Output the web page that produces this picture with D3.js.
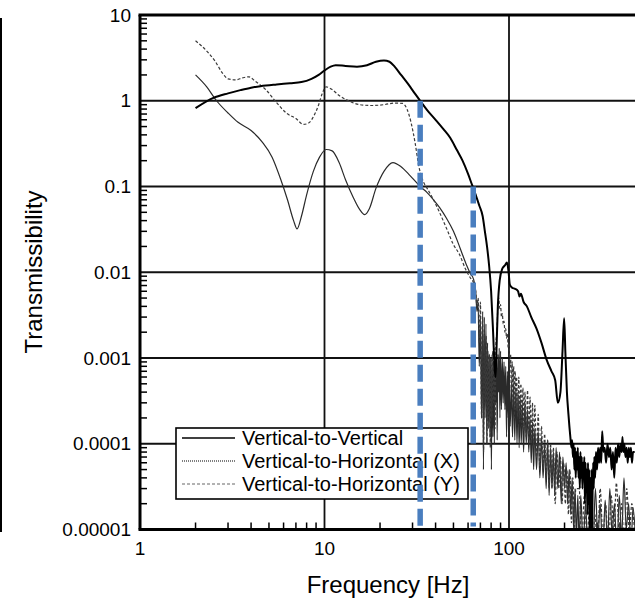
<!DOCTYPE html>
<html>
<head>
<meta charset="utf-8">
<script src="https://cdn.jsdelivr.net/npm/d3@7"></script>
<style>
  body { margin: 0; background: #fff; }
  svg { display: block; font-family: "Liberation Sans", Arial, sans-serif; }
</style>
</head>
<body>
<svg id="chart"></svg>
<script>
const WIDTH = 635;
const HEIGHT = 602;

// Vertical-to-Vertical
const vvFreq = [2, 2.5, 3, 3.5, 4, 4.5, 5.5, 6.5, 7.5, 8.5, 9.3, 10, 10.8, 11.5, 13, 15, 17, 19, 21, 22.5,
  24, 26, 28.5, 31, 33, 36, 40, 44, 48, 52, 56, 60, 63, 66, 69, 72, 74, 76, 78, 80,
  82, 83.5, 84.5, 85.5, 87, 89, 92, 95, 97.5, 99.5, 101, 104, 108, 112, 114, 116, 120, 125, 132, 141,
  150, 160, 170, 178, 184, 190, 195, 199, 202, 206, 210, 215, 218, 220, 222, 224, 226, 228, 230, 232,
  234, 236, 238, 240, 242, 244, 246, 248, 250, 252, 254, 256, 258, 260, 262, 264, 266, 268, 270, 272,
  274, 276, 278, 280, 282, 284, 286, 288, 290, 293, 296, 300, 304, 308, 312, 316, 320, 325, 330, 336,
  342, 348, 354, 360, 366, 372, 378, 384, 390, 396, 402, 408, 412, 417, 422, 428, 434, 440, 446, 452,
  458, 464, 470, 480];
const vvVal = [0.82, 1.08, 1.22, 1.33, 1.42, 1.48, 1.55, 1.6, 1.65, 1.8, 2.0, 2.25, 2.5, 2.6, 2.55, 2.5, 2.6, 2.85, 2.95, 2.85,
  2.5, 2.0, 1.55, 1.2, 1.0, 0.78, 0.6, 0.47, 0.37, 0.27, 0.2, 0.14, 0.105, 0.08, 0.06, 0.045, 0.03, 0.02, 0.012, 0.006,
  0.002, 0.0008, 0.0006, 0.0012, 0.004, 0.008, 0.011, 0.012, 0.013, 0.01, 0.0072, 0.0066, 0.0064, 0.006, 0.0052, 0.0056, 0.0045, 0.004, 0.003, 0.0022,
  0.0015, 0.00095, 0.0007, 0.00055, 0.0003, 0.0004, 0.0012, 0.0029, 0.0012, 0.0004, 0.00022, 0.00012, 0.00009, 0.00011, 0.00007, 0.0001, 0.00005, 0.00009, 0.00004, 0.00008,
  0.00005, 0.00009, 0.00004, 0.00007, 0.00003, 0.00008, 0.00004, 0.00007, 0.00003, 0.00006, 0.00004, 0.00007, 0.00002, 0.00006, 0.00003, 0.00005, 0.000015, 0.00006, 0.00002, 0.00005,
  0.000008, 0.00004, 0.000006, 0.00005, 0.000009, 0.00003, 0.00006, 0.00003, 0.00007, 0.00004, 0.00008, 0.00005, 0.00009, 0.00006, 0.00009, 0.00006, 0.00014, 0.00008, 0.00009, 0.00006,
  0.0001, 0.00007, 0.00009, 0.00005, 0.00008, 0.00004, 0.00009, 0.00006, 0.0001, 0.00007, 0.0001, 0.00008, 0.00012, 0.00008, 0.0001, 0.00007, 0.00009, 0.00006, 0.00009, 0.00007,
  0.00009, 0.00006, 0.00008, 0.00008];

// Vertical-to-Horizontal (X)
const vhxFreq = [2, 2.3, 2.6, 3, 3.4, 4, 4.6, 5.2, 5.8, 6.3, 6.8, 7.1, 7.5, 8, 8.7, 9.4, 10.2, 11, 12, 13,
  14.3, 15.5, 16.5, 17.5, 19, 21, 23.5, 26, 29, 33, 36, 39, 42, 46, 50, 53, 56, 59, 62, 64,
  66, 67, 68, 69, 70, 71, 72, 72.7, 73.5, 74.2, 75, 75.8, 76.5, 77.3, 78, 78.8, 79.5, 80.3, 81, 81.8,
  82.5, 83.3, 84, 84.8, 85.5, 86.3, 87, 87.8, 88.5, 89.3, 90, 91, 92, 93, 94, 95, 96, 97, 98, 99,
  100, 101.5, 103, 104.5, 106, 107.5, 109, 110.5, 112, 113.5, 115, 116.5, 118, 120, 122, 124, 126, 128, 130, 132,
  134, 136, 138, 141, 144, 147, 150, 153, 156, 159, 162, 165, 168, 171, 174, 177, 180, 184, 188, 192,
  196, 200, 204, 208, 212, 216, 220, 224, 228, 232, 236, 240, 245, 252, 260, 268, 276, 285, 294, 303,
  312, 322, 332, 342, 352, 362, 373, 384, 396, 408, 420, 432, 445, 458, 470, 485];
const vhxVal = [2.0, 1.45, 1.0, 0.72, 0.56, 0.45, 0.33, 0.22, 0.12, 0.07, 0.04, 0.032, 0.045, 0.08, 0.15, 0.22, 0.27, 0.26, 0.19, 0.12,
  0.075, 0.054, 0.047, 0.055, 0.095, 0.15, 0.19, 0.17, 0.135, 0.1, 0.085, 0.07, 0.057, 0.042, 0.03, 0.022, 0.016, 0.012, 0.0095, 0.0085,
  0.006, 0.0035, 0.0045, 0.0008, 0.003, 0.0002, 0.0035, 0.00005, 0.003, 0.0002, 0.0025, 0.0001, 0.0015, 0.00015, 0.0011, 0.00012, 0.001, 0.00005, 0.0011, 0.00012,
  0.0009, 0.0001, 0.001, 0.0003, 0.0012, 0.00011, 0.0011, 0.0004, 0.0013, 0.0002, 0.0012, 0.00025, 0.001, 0.0003, 0.0009, 0.00025, 0.0008, 0.00012, 0.0007, 0.0002,
  0.0006, 0.00016, 0.0005, 0.00012, 0.0005, 0.00011, 0.00045, 0.0001, 0.0004, 0.00009, 0.00035, 0.0001, 0.0003, 0.00008, 0.0003, 0.0001, 0.00025, 0.00008, 0.0002, 0.00006,
  0.00018, 0.00005, 0.00015, 0.00005, 0.00014, 0.00004, 0.00012, 0.00004, 0.0001, 0.00003, 0.00011, 0.000025, 0.00009, 0.00003, 0.00008, 0.000025, 0.00009, 0.00003, 0.00008, 0.00002,
  0.00007, 0.00003, 0.00006, 0.00002, 0.00005, 0.000015, 0.00004, 0.00001, 0.00003, 0.000008, 0.000025, 0.000007, 0.000025, 0.000006, 0.00002, 0.000005, 0.000018, 0.000006, 0.00003, 0.000008,
  0.00002, 0.000005, 0.000022, 0.000007, 0.00003, 0.000009, 0.00002, 0.000005, 0.000025, 0.000008, 0.00004, 0.00001, 0.00002, 0.000006, 0.000018, 0.000008];

// Vertical-to-Horizontal (Y)
const vhyFreq = [2, 2.3, 2.55, 2.8, 3, 3.3, 3.6, 3.9, 4.2, 4.8, 5.5, 6.2, 7, 7.7, 8.2, 8.8, 9.3, 9.7, 10.2, 11,
  12, 13.5, 15.5, 18, 21, 24, 26.5, 28, 29.5, 31, 32.5, 34, 36, 39, 42, 46, 50, 54, 58, 62,
  64, 65, 66, 67, 68, 69, 70, 71, 72, 72.8, 73.6, 74.4, 75.2, 76, 76.8, 77.6, 78.4, 79.2, 80, 80.8,
  81.6, 82.4, 83.2, 84, 85, 86, 87, 88, 89, 90, 91, 92, 93, 94, 95, 96, 97, 98, 99, 100,
  101, 102, 103, 104, 105, 106, 107, 108, 109, 110, 111.5, 113, 114.5, 116, 117.5, 119, 120.5, 122, 124, 126,
  128, 130, 132, 134, 136, 138, 141, 144, 147, 150, 153, 156, 159, 162, 165, 168, 171, 174, 178, 182,
  186, 190, 194, 198, 202, 206, 210, 214, 218, 222, 226, 230, 240, 248, 256, 265, 274, 283, 292, 302,
  312, 323, 334, 346, 358, 370, 382, 395, 408, 421, 435, 449, 463, 478];
const vhyVal = [5.0, 3.8, 2.9, 2.1, 1.8, 1.75, 1.85, 1.9, 1.7, 1.35, 0.95, 0.72, 0.62, 0.53, 0.55, 0.68, 0.9, 1.2, 1.45, 1.35,
  1.15, 1.0, 0.9, 0.88, 0.9, 0.94, 0.93, 0.8, 0.55, 0.32, 0.17, 0.12, 0.095, 0.07, 0.05, 0.032, 0.021, 0.016, 0.011, 0.0085,
  0.0077, 0.007, 0.006, 0.004, 0.005, 0.0015, 0.0045, 0.0002, 0.003, 0.00008, 0.002, 0.0003, 0.0018, 0.0001, 0.0012, 0.0002, 0.0011, 0.00009, 0.001, 0.0002,
  0.0012, 0.0003, 0.0013, 0.00015, 0.0015, 0.002, 0.004, 0.005, 0.0038, 0.0042, 0.003, 0.0033, 0.0025, 0.0027, 0.002, 0.0022, 0.0017, 0.0019, 0.0013, 0.0015,
  0.0008, 0.0011, 0.0004, 0.0009, 0.0003, 0.0008, 0.0002, 0.0007, 0.00025, 0.0006, 0.0002, 0.0006, 0.00018, 0.0005, 0.00016, 0.00045, 0.00014, 0.0004, 0.00012, 0.00042,
  0.00011, 0.00035, 0.0001, 0.0003, 0.00009, 0.00028, 0.00007, 0.00022, 0.00005, 0.00016, 0.00005, 0.00013, 0.00004, 0.00011, 0.00003, 0.0001, 0.00003, 0.00009, 0.00002, 0.00008,
  0.00003, 0.00007, 0.00002, 0.00006, 0.00002, 0.00005, 0.000015, 0.00005, 0.000012, 0.00004, 0.00001, 0.00003, 0.00003, 0.000007, 0.000025, 0.000008, 0.00002, 0.000004, 0.000015, 0.000006,
  0.00003, 0.000008, 0.00002, 0.000005, 0.000025, 0.000009, 0.000035, 0.00001, 0.00002, 0.000006, 0.00003, 0.000009, 0.00002, 0.00001];

// marked frequencies (blue dashed) and the level where each starts
const markFreq = [33, 64];
const markTop = [1, 0.1];

const yTickVals = [10, 1, 0.1, 0.01, 0.001, 0.0001, 0.00001];
const xTickVals = [1, 10, 100];

const legendLabels = ["Vertical-to-Vertical", "Vertical-to-Horizontal (X)", "Vertical-to-Horizontal (Y)"];

const LEFT = 140, TOP = 15, BOTTOM = 529.5;

let x = d3.scaleLog().domain([1, 100]).range([LEFT, 509]);
x = d3.scaleLog().domain([1, x.invert(WIDTH)]).range([LEFT, WIDTH]);
const y = d3.scaleLog().domain([0.00001, 10]).range([BOTTOM, TOP]);

const svg = d3.select("#chart").attr("width", WIDTH).attr("height", HEIGHT);

svg.append("defs").append("clipPath").attr("id", "plot")
  .append("rect").attr("x", LEFT).attr("y", TOP)
  .attr("width", WIDTH - LEFT).attr("height", BOTTOM - TOP);

// stray frame edge on the far left
svg.append("line").attr("x1", 1).attr("x2", 1).attr("y1", 18).attr("y2", 532)
  .attr("stroke", "#000").attr("stroke-width", 2);

// grid
svg.append("g").selectAll("line").data(yTickVals.slice(1, -1)).enter()
  .append("line")
  .attr("x1", LEFT).attr("x2", WIDTH)
  .attr("y1", d => y(d)).attr("y2", d => y(d))
  .attr("stroke", "#111").attr("stroke-width", 1.8);
svg.append("g").selectAll("line").data(xTickVals.slice(1)).enter()
  .append("line")
  .attr("y1", TOP).attr("y2", BOTTOM)
  .attr("x1", d => x(d)).attr("x2", d => x(d))
  .attr("stroke", "#111").attr("stroke-width", 1.8);

// minor ticks
const yMinor = y.ticks().filter(d => !yTickVals.includes(d));
svg.append("g").selectAll("line").data(yMinor).enter()
  .append("line")
  .attr("x1", LEFT).attr("x2", LEFT + 7)
  .attr("y1", d => y(d)).attr("y2", d => y(d))
  .attr("stroke", "#000").attr("stroke-width", 1.5);
const xMinor = [2,3,4,5,6,7,8,9,20,30,40,50,60,70,80,90,200,300,400];
svg.append("g").selectAll("line").data(xMinor).enter()
  .append("line")
  .attr("y1", BOTTOM).attr("y2", BOTTOM - 7)
  .attr("x1", d => x(d)).attr("x2", d => x(d))
  .attr("stroke", "#000").attr("stroke-width", 1.5);

// curves
const plot = svg.append("g").attr("clip-path", "url(#plot)");
const mkLine = d3.line().x(d => x(d[0])).y(d => y(d[1])).curve(d3.curveMonotoneX);

plot.append("path").datum(d3.zip(vhxFreq, vhxVal)).attr("d", mkLine)
  .attr("fill", "none").attr("stroke", "#2a2a2a").attr("stroke-width", 1.2);
plot.append("path").datum(d3.zip(vhyFreq, vhyVal)).attr("d", mkLine)
  .attr("fill", "none").attr("stroke", "#3a3a3a").attr("stroke-width", 1.2)
  .attr("stroke-dasharray", "3,2");
plot.append("path").datum(d3.zip(vvFreq, vvVal)).attr("d", mkLine)
  .attr("fill", "none").attr("stroke", "#000").attr("stroke-width", 2);

// axes frame
svg.append("line").attr("x1", LEFT).attr("x2", LEFT).attr("y1", TOP).attr("y2", BOTTOM)
  .attr("stroke", "#000").attr("stroke-width", 3);
svg.append("line").attr("x1", LEFT - 1.5).attr("x2", WIDTH).attr("y1", TOP).attr("y2", TOP)
  .attr("stroke", "#000").attr("stroke-width", 3);
svg.append("line").attr("x1", LEFT - 1.5).attr("x2", WIDTH).attr("y1", BOTTOM).attr("y2", BOTTOM)
  .attr("stroke", "#000").attr("stroke-width", 3);

// tick labels
const fmt = d3.format(".5~f");
svg.append("g").selectAll("text").data(yTickVals).enter()
  .append("text")
  .attr("x", LEFT - 9).attr("y", d => y(d)).attr("dy", "0.35em")
  .attr("text-anchor", "end").attr("font-size", 19)
  .text(fmt);
svg.append("g").selectAll("text").data(xTickVals).enter()
  .append("text")
  .attr("x", d => x(d)).attr("y", 555)
  .attr("text-anchor", "middle").attr("font-size", 19)
  .text(d => d);

// axis titles
svg.append("text").attr("x", 388).attr("y", 593)
  .attr("text-anchor", "middle").attr("font-size", 24)
  .text("Frequency [Hz]");
svg.append("text").attr("transform", "translate(42,272) rotate(-90)")
  .attr("text-anchor", "middle").attr("font-size", 24)
  .text("Transmissibility");

// legend
const lg = svg.append("g");
lg.append("rect").attr("x", 176).attr("y", 428).attr("width", 292).attr("height", 71)
  .attr("fill", "#fff").attr("stroke", "#000").attr("stroke-width", 1.6);
const lgStyles = [
  { stroke: "#000", width: 1.6, dash: null },
  { stroke: "#555", width: 1.4, dash: "1,1" },
  { stroke: "#666", width: 1.1, dash: "3,2" }
];
legendLabels.forEach((label, i) => {
  const cy = 438 + i * 23;
  lg.append("line").attr("x1", 182).attr("x2", 235).attr("y1", cy).attr("y2", cy)
    .attr("stroke", lgStyles[i].stroke).attr("stroke-width", lgStyles[i].width)
    .attr("stroke-dasharray", lgStyles[i].dash);
  lg.append("text").attr("x", 242).attr("y", cy).attr("dy", "0.36em")
    .attr("font-size", 20).text(label);
});

// blue dashed markers
svg.append("g").selectAll("line").data(d3.zip(markFreq, markTop)).enter()
  .append("line")
  .attr("x1", d => x(d[0])).attr("x2", d => x(d[0]))
  .attr("y1", d => y(d[1])).attr("y2", BOTTOM - 3)
  .attr("stroke", "#4a7ebf").attr("stroke-width", 5.5)
  .attr("stroke-dasharray", "17,7");
</script>
</body>
</html>
